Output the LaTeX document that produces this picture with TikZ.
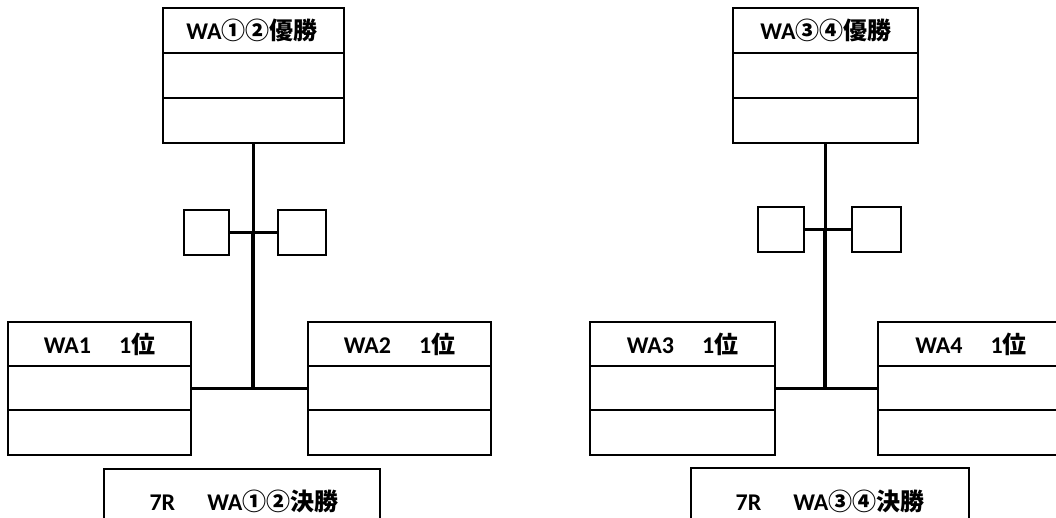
\documentclass[tikz,border=0pt]{standalone}
\usepackage{fontspec}
\setmainfont{Carlito}
\newfontfamily\jp{Noto Sans CJK JP}
\tikzset{
  box/.style={draw, line width=2pt, inner sep=0pt, rectangle},
  sq/.style={draw, line width=2pt, inner sep=0pt, minimum height=45pt},
  divider/.style={line width=2pt},
  conn/.style={line width=3.6pt},
  connthin/.style={line width=3pt},
  ttl/.style={font=\fontsize{24}{28}\selectfont\bfseries, anchor=base, inner sep=0pt}
}
\begin{document}
\begin{tikzpicture}[x=1pt,y=-1pt]
\useasboundingbox (0,0) rectangle (1056,517);
\clip (0,0) rectangle (1056,517);
\fill[white] (0,0) rectangle (1056,517);

% ---------- left group ----------
\node[box, minimum width=181pt, minimum height=135pt] (t1) at (253,75.5) {};
\draw[divider] (162.5,53) -- (343.5,53);
\draw[divider] (162.5,98) -- (343.5,98);
\node[ttl] (t1l) at (252,39) {WA{\jp ①②優勝}};

\node[sq, minimum width=45pt] (s1) at (206.5,232.5) {};
\node[sq, minimum width=48pt] (s2) at (302,232.5) {};

\node[box, minimum width=183pt, minimum height=133pt] (a1) at (99.5,388.5) {};
\draw[divider] (8,366) -- (191,366);
\draw[divider] (8,410) -- (191,410);
\node[ttl] (a1l) at (99.5,353) {WA1\hspace{28pt}1{\jp 位}};

\node[box, minimum width=183pt, minimum height=133pt] (a2) at (399.5,388.5) {};
\draw[divider] (308,366) -- (491,366);
\draw[divider] (308,410) -- (491,410);
\node[ttl] (a2l) at (399.5,353) {WA2\hspace{28pt}1{\jp 位}};

\node[box, minimum width=276pt, minimum height=100pt] (b1) at (242,519) {};
\node[ttl] (b1l) at (244,510) {7R\hspace{32pt}WA{\jp ①②決勝}};

\coordinate (c1) at (253,232.5);
\coordinate (j1) at (253,388.5);
\draw[connthin] (t1.south) -- (c1);
\draw[conn] (c1) -- (j1);
\draw[conn] (s1.east) -- (s2.west);
\draw[conn] (a1.east) -- (a2.west);

% ---------- right group ----------
\node[box, minimum width=185pt, minimum height=135pt] (t2) at (825.5,75.5) {};
\draw[divider] (733,53) -- (918,53);
\draw[divider] (733,98) -- (918,98);
\node[ttl] (t2l) at (826,39) {WA{\jp ③④優勝}};

\node[sq, minimum width=46pt] (s3) at (781,229.5) {};
\node[sq, minimum width=49pt] (s4) at (876.5,229.5) {};

\node[box, minimum width=185pt, minimum height=133pt] (a3) at (682.5,388.5) {};
\draw[divider] (590,366) -- (775,366);
\draw[divider] (590,410) -- (775,410);
\node[ttl] (a3l) at (682.5,353) {WA3\hspace{28pt}1{\jp 位}};

\node[box, minimum width=186pt, minimum height=133pt] (a4) at (971,388.5) {};
\draw[divider] (878,366) -- (1064,366);
\draw[divider] (878,410) -- (1064,410);
\node[ttl] (a4l) at (971,353) {WA4\hspace{28pt}1{\jp 位}};

\node[box, minimum width=278pt, minimum height=100pt] (b2) at (830,518) {};
\node[ttl] (b2l) at (830,510) {7R\hspace{32pt}WA{\jp ③④決勝}};

\coordinate (c2) at (825,229.5);
\coordinate (j2) at (825,388.5);
\draw[connthin] (t2.south -| c2) -- (c2);
\draw[conn] (c2) -- (j2);
\draw[conn] (s3.east) -- (s4.west);
\draw[conn] (a3.east) -- (a4.west);
\end{tikzpicture}
\end{document}
